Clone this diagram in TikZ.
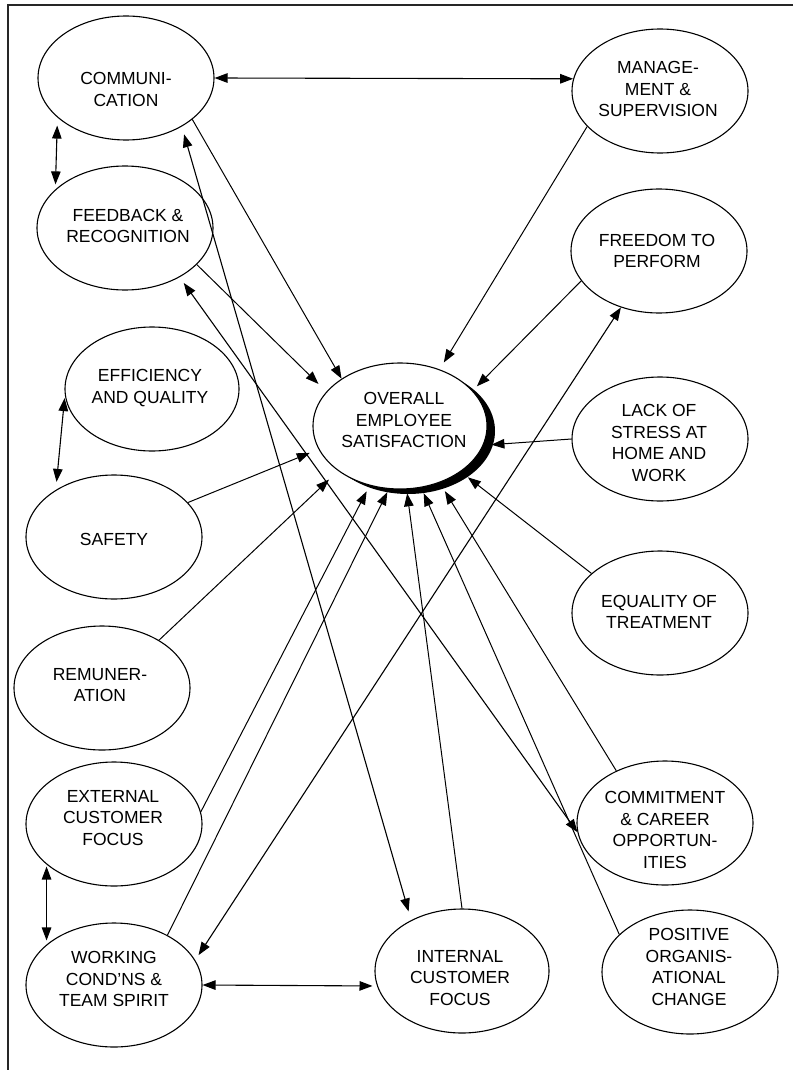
\documentclass[tikz,border=0pt]{standalone}
\usepackage{fontspec}
\setmainfont{Liberation Sans}
\usetikzlibrary{shapes.geometric, arrows.meta, shadows}

\begin{document}
\begin{tikzpicture}[x=1pt, y=-1pt,
  bubble/.style={ellipse, draw, line width=1.1pt, minimum width=176pt,
                 minimum height=124pt, inner sep=0pt},
  txt/.style={align=center, inner sep=0pt, font=\fontsize{17.5}{21.5}\selectfont},
  link/.style={line width=1pt, -{Triangle[length=13pt, width=9.5pt]}},
  both/.style={line width=1.1pt,
               {Triangle[length=13pt, width=9.5pt]}-{Triangle[length=13pt, width=9.5pt]}},
]
\useasboundingbox (0,0) rectangle (793,1070);

% outer frame (top and left edges)
\draw[line width=1.6pt, black!85] (793,5) -- (8,5) -- (8,1070);

% factor bubbles
\node[bubble] (comm)     at (126,78)  {};
\node[bubble] (mgmt)     at (660,91)  {};
\node[bubble] (feedback) at (125,228) {};
\node[bubble] (freedom)  at (659,251) {};
\node[bubble, minimum width=174pt] (efficiency) at (152,389) {};
\node[bubble, minimum width=174pt, minimum height=126pt, fill=white,
      drop shadow={shadow xshift=8pt, shadow yshift=-5pt, fill=black, opacity=1}]
      (overall) at (400,426) {};
\node[bubble] (lack)     at (660,439) {};
\node[bubble] (safety)   at (114,537) {};
\node[bubble] (equality) at (660,613) {};
\node[bubble] (remun)    at (102,688) {};
\node[bubble] (external) at (114,824) {};
\node[bubble] (commit)   at (665,823) {};
\node[bubble] (working)  at (114,985) {};
\node[bubble, minimum width=174pt] (internal) at (462,971) {};
\node[bubble] (positive) at (690,972) {};

% bubble labels
\node[txt] (comm-t)     at (126,89.5) {COMMUNI-\\CATION};
\node[txt] (mgmt-t)     at (658,89)   {MANAGE-\\MENT \&\\SUPERVISION};
\node[txt] (feedback-t) at (128,226)  {FEEDBACK \&\\RECOGNITION};
\node[txt] (freedom-t)  at (657,251)  {FREEDOM TO\\PERFORM};
\node[txt] (efficiency-t) at (150,388) {EFFICIENCY\\AND QUALITY};
\node[txt] (overall-t)  at (404,420)  {OVERALL\\EMPLOYEE\\SATISFACTION};
\node[txt] (lack-t)     at (659,443)  {LACK OF\\STRESS AT\\HOME AND\\WORK};
\node[txt] (safety-t)   at (114,539)  {SAFETY};
\node[txt] (equality-t) at (659,612)  {EQUALITY OF\\TREATMENT};
\node[txt] (remun-t)    at (100,685)  {REMUNER-\\ATION};
\node[txt] (external-t) at (113,818)  {EXTERNAL\\CUSTOMER\\FOCUS};
\node[txt] (commit-t)   at (665,830)  {COMMITMENT\\\& CAREER\\OPPORTUN-\\ITIES};
\node[txt] (working-t)  at (114,979)  {WORKING\\COND'NS \&\\TEAM SPIRIT};
\node[txt] (internal-t) at (460,978)  {INTERNAL\\CUSTOMER\\FOCUS};
\node[txt] (positive-t) at (689,967)  {POSITIVE\\ORGANIS-\\ATIONAL\\CHANGE};

% two-way links between neighbouring factors
\draw[both] (comm.east) -- (mgmt.172);
\draw[both, shorten <=8pt, shorten >=5pt] (comm.210) -- (feedback.151);
\draw[both, shorten <=3pt, shorten >=8pt] (efficiency.184) -- (safety.141);
\draw[both, shorten <=2pt, shorten >=4pt] (external.211) -- (working.149);
\draw[both, shorten >=4.5pt] (working.east) -- (internal.190);

% long two-way links across the chart
\draw[both, shorten <=8pt, shorten >=9pt] (comm.-41) -- (internal.135);
\draw[both, shorten <=7pt] (feedback.-42) -- (commit.186);
\draw[both, shorten <=6pt] (working.17) -- (freedom.236);

% every factor feeds overall satisfaction
\draw[link] (comm.-32) -- (overall.141);
\draw[link, shorten >=11pt] (feedback.-27) -- (overall.155);
\draw[link, shorten >=8pt] (mgmt.206) -- (overall.55);
\draw[link, shorten >=6pt] (freedom.201) -- (overall.26);
\draw[link, shorten >=8pt] (lack.west) -- (overall.-13);
\draw[link, shorten >=9pt] (equality.150) -- (overall.-37);
\draw[link, shorten >=10pt] (commit.133) -- (overall.-55);
\draw[link, shorten >=6pt] (positive.152) -- (overall.-71);
\draw[link, shorten >=4pt] (internal.north) -- (overall.-84);
\draw[link, shorten >=3.5pt] (working.43) -- (overall.-100);
\draw[link, shorten >=6.5pt] (external.8) -- (overall.-117);
\draw[link, shorten >=12.5pt] (remun.40) -- (overall.216);
\draw[link, shorten >=9.5pt] (safety.25) -- (overall.196);
\end{tikzpicture}
\end{document}
